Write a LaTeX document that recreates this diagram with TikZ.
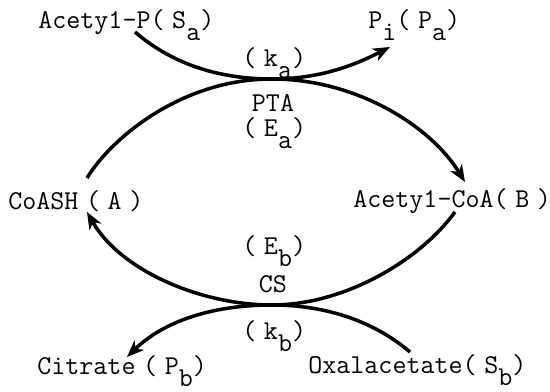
\documentclass[tikz,border=0pt]{standalone}
\usepackage{tikz}
\usetikzlibrary{arrows.meta}

\newcommand{\lowr}[1]{\raisebox{-0.42em}{#1}}
\newcommand{\gp}{\hspace{0.28em}}

\begin{document}
\begin{tikzpicture}[
    x=0.2mm, y=-0.2mm,
    lbl/.style = {inner sep=0pt, anchor=base west,
                  font=\fontsize{15.5}{18}\selectfont\ttfamily},
    mid/.style = {lbl, anchor=base},
    arr/.style = {-{Stealth[length=3.4mm,width=2.7mm,inset=1mm]},
                  line width=2pt},
  ]
  \useasboundingbox (0,0) rectangle (550,392);

  % ----------------------------------------------------------------
  % Species round the cycle
  % ----------------------------------------------------------------
  \node[lbl] (Sa) at (38,29)   {Acety1-P(\gp S\lowr{a})};
  \node[lbl] (Pa) at (368,29)  {P\lowr{i}(\gp P\lowr{a})};
  \node[lbl] (A)  at (8,210)   {CoASH\gp(\gp A\gp)};
  \node[lbl] (B)  at (353,208) {Acety1-CoA(\gp B\gp)};
  \node[lbl] (Pb) at (37,375)  {Citrate\gp(\gp P\lowr{b})};
  \node[lbl] (Sb) at (308,374) {Oxalacetate(\gp S\lowr{b})};

  % ----------------------------------------------------------------
  % Enzymes and rate constants (centre column)
  % ----------------------------------------------------------------
  \node[lbl] (ka)  at (242,67)  {(\gp k\lowr{a})};
  \node[mid] (PTA) at (273,112) {PTA};
  \node[lbl] (Ea)  at (242,137) {(\gp E\lowr{a})};
  \node[lbl] (Eb)  at (242,255) {(\gp E\lowr{b})};
  \node[mid] (CS)  at (273,293) {CS};
  \node[lbl] (kb)  at (242,340) {(\gp k\lowr{b})};

  % touching points of the arcs
  \coordinate (ta) at (272,79);
  \coordinate (tb) at (272,305);

  % ----------------------------------------------------------------
  % PTA step (top): S_a -> P_a, A -> B
  % ----------------------------------------------------------------
  \draw[arr] ([shift={(97,3)}]Sa.base west)
        .. controls (170,62) and (215,79) .. (ta)
        .. controls (320,79) and (355,65) .. ([shift={(22,18)}]Pa.base west);
  \draw[arr] ([shift={(79,-32)}]A.base west)
        .. controls (110,140) and (180,79) .. (ta)
        .. controls (355,79) and (430,125) .. ([shift={(112,-26)}]B.base west);

  % ----------------------------------------------------------------
  % CS step (bottom): B -> A, S_b -> P_b
  % ----------------------------------------------------------------
  \draw[arr] ([shift={(102,4)}]B.base west)
        .. controls (420,260) and (345,305) .. (tb)
        .. controls (200,305) and (120,270) .. ([shift={(79,2)}]A.base west);
  \draw[arr] ([shift={(102,-22)}]Sb.base west)
        .. controls (370,318) and (320,305) .. (tb)
        .. controls (215,305) and (165,320) .. ([shift={(90,-18)}]Pb.base west);

\end{tikzpicture}
\end{document}
